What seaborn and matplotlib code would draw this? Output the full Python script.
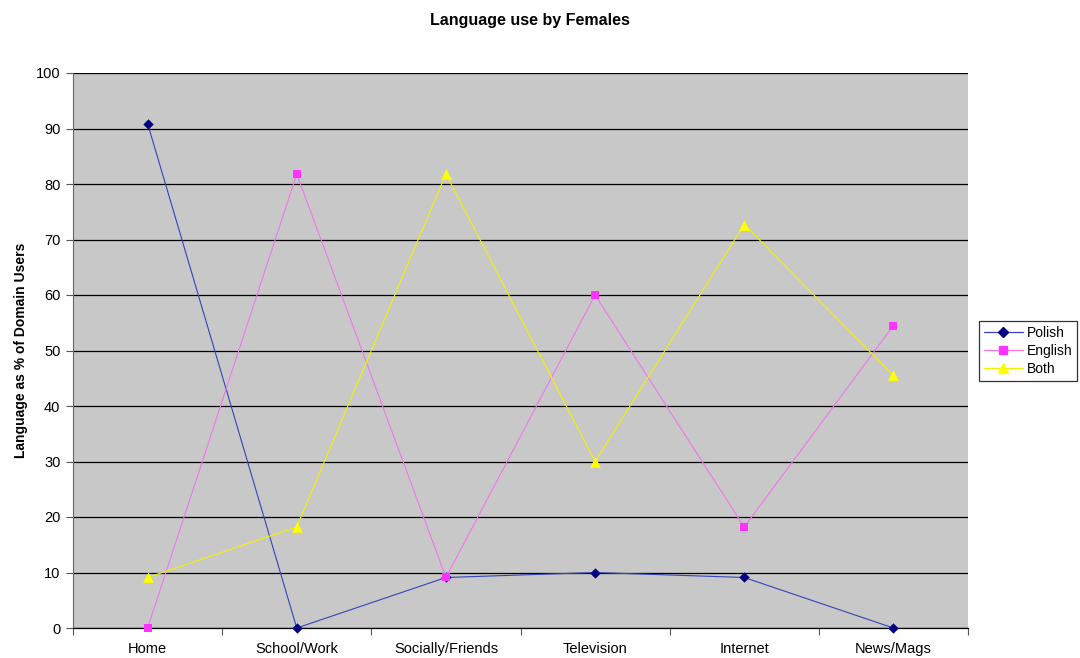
import matplotlib
matplotlib.use("Agg")
import matplotlib.pyplot as plt
from matplotlib.lines import Line2D
import seaborn as sns
import pandas as pd
import numpy as np

categories = ["Home", "School/Work", "Socially/Friends", "Television", "Internet", "News/Mags"]
polish = [90.9, 0, 9.1, 10.0, 9.1, 0]
english = [0, 81.8, 9.1, 60.0, 18.2, 54.5]
both = [9.1, 18.2, 81.8, 30.0, 72.7, 45.5]

series = {"Polish": polish, "English": english, "Both": both}
line_colors = {"Polish": "#3344BB", "English": "#EE77EE", "Both": "#F2F200"}
marker_colors = {"Polish": "#000080", "English": "#FF33FF", "Both": "#FFFF00"}
markers = {"Polish": "D", "English": "s", "Both": "^"}
marker_sizes = {"Polish": 28, "English": 40, "Both": 60}

rows = []
for name, vals in series.items():
    for i, (c, v) in enumerate(zip(categories, vals)):
        rows.append({"pos": i, "category": c, "series": name, "value": v})
df = pd.DataFrame(rows)

sns.set_theme(style="white")
plt.rcParams["font.family"] = ["Liberation Sans", "DejaVu Sans"]
plt.rcParams["text.color"] = "black"
plt.rcParams["axes.labelcolor"] = "black"
plt.rcParams["xtick.color"] = "black"
plt.rcParams["ytick.color"] = "black"

fig = plt.figure(figsize=(10.8, 6.58), dpi=100)
ax = fig.add_axes([73 / 1080, 1 - 628 / 658, (968 - 73) / 1080, (628 - 73) / 658])
ax.set_facecolor("#C8C8C8")

for name in series:
    sub = df[df["series"] == name]
    sns.lineplot(data=sub, x="pos", y="value", ax=ax, color=line_colors[name],
                 linewidth=0.8, legend=False, zorder=3)
    sns.scatterplot(data=sub, x="pos", y="value", ax=ax, color=marker_colors[name],
                    marker=markers[name], s=marker_sizes[name], linewidth=0,
                    legend=False, zorder=4, clip_on=False)

ax.set_xlim(-0.5, 5.5)
ax.set_ylim(0, 100)
ax.set_yticks(np.arange(0, 101, 10))
ax.yaxis.grid(True, color="black", linewidth=0.9)
ax.set_axisbelow(True)
ax.set_xticks(range(len(categories)))
ax.set_xticklabels(categories, fontsize=10.5)
ax.set_xticks(np.arange(-0.5, 6.0, 1.0), minor=True)
ax.tick_params(axis="x", which="major", length=0, pad=10, labelcolor="black")
ax.tick_params(axis="x", which="minor", length=5, width=0.8, color="#555555", direction="out", bottom=True)
ax.tick_params(axis="y", length=5, width=0.8, color="#555555", direction="out", left=True,
               labelsize=10.5, pad=4, labelcolor="black")
ax.set_xlabel("")
ax.set_ylabel("Language as % of Domain Users", fontsize=10, fontweight="bold", labelpad=6,
              color="black")

for side in ["top", "right"]:
    ax.spines[side].set_visible(False)
ax.spines["left"].set_color("#666666")
ax.spines["left"].set_linewidth(0.8)
ax.spines["bottom"].set_color("black")
ax.spines["bottom"].set_linewidth(0.9)

fig.text(530 / 1080, 1 - 20 / 658, "Language use by Females", ha="center", va="center",
         fontsize=11.5, fontweight="bold", color="black")

handles = [Line2D([0], [0], color=line_colors[n], lw=0.9, marker=markers[n],
                  markerfacecolor=marker_colors[n], markeredgecolor=marker_colors[n],
                  markersize={"Polish": 5, "English": 6, "Both": 7}[n]) for n in series]
leg = fig.legend(handles, list(series.keys()), loc="center left",
                 bbox_to_anchor=(979 / 1080, 1 - 351 / 658), frameon=True, fancybox=False,
                 fontsize=10, handlelength=2.8, handletextpad=0.3, borderpad=0.35,
                 labelspacing=0.3, borderaxespad=0)
leg.get_frame().set_edgecolor("black")
leg.get_frame().set_linewidth(0.9)
for t in leg.get_texts():
    t.set_color("black")

fig.savefig("out.png", dpi=100, facecolor="white")
